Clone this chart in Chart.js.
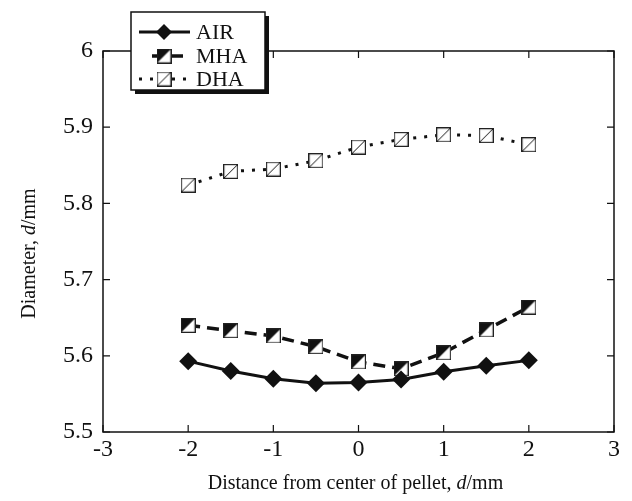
<!DOCTYPE html>
<html lang="en">
  <head>
    <meta charset="UTF-8" />
    <title>Diameter vs distance</title>
    <style type="text/css">
      body {
        margin: 0;
        background-color: #ffffff;
      }
      #wrap {
        width: 632px;
        height: 501px;
      }
    </style>
  </head>
  <body>
    <div id="wrap"><canvas id="chart"></canvas></div>

    <script src="https://cdn.jsdelivr.net/npm/chart.js@4.4.1/dist/chart.umd.min.js"></script>
    <script type="text/javascript">
      const xPos = [-2, -1.5, -1, -0.5, 0, 0.5, 1, 1.5, 2];
      const airVals = [5.593, 5.58, 5.57, 5.564, 5.565, 5.569, 5.579, 5.587, 5.594];
      const mhaVals = [5.64, 5.633, 5.626, 5.612, 5.592, 5.583, 5.604, 5.634, 5.664];
      const dhaVals = [5.824, 5.842, 5.845, 5.856, 5.874, 5.884, 5.89, 5.889, 5.877];
      const seriesNames = ["AIR", "MHA", "DHA"];
      const xTitle = ["Distance from center of pellet, ", "d", "/mm"];
      const yTitle = ["Diameter, ", "d", "/mm"];

      const serif = "'Liberation Serif', 'DejaVu Serif', serif";

      // little canvases used as point styles
      const makeMarker = (kind) => {
        const c = document.createElement("canvas");
        const s = 15;
        c.width = s;
        c.height = s;
        const g = c.getContext("2d");
        g.fillStyle = "#fff";
        g.fillRect(0.5, 0.5, s - 1, s - 1);
        if (kind === "half") {
          g.fillStyle = "#111";
          g.beginPath();
          g.moveTo(0.5, 0.5);
          g.lineTo(s - 0.5, 0.5);
          g.lineTo(0.5, s - 0.5);
          g.closePath();
          g.fill();
        } else {
          g.strokeStyle = "#111";
          g.lineWidth = 1;
          g.beginPath();
          g.moveTo(1, s - 1);
          g.lineTo(s - 1, 1);
          g.stroke();
        }
        g.strokeStyle = "#222";
        g.lineWidth = 1.2;
        g.strokeRect(0.6, 0.6, s - 1.2, s - 1.2);
        return c;
      };
      const mhaMarker = makeMarker("half");
      const dhaMarker = makeMarker("slash");

      const toPoints = (vals) => vals.map((v, i) => ({ x: xPos[i], y: v }));

      const frame = {
        id: "frame",
        afterDraw(chart) {
          const ctx = chart.ctx;
          const a = chart.chartArea;
          const xs = chart.scales.x;
          const ys = chart.scales.y;
          ctx.save();
          ctx.strokeStyle = "#111";
          ctx.lineWidth = 1.5;
          ctx.strokeRect(a.left, a.top, a.right - a.left, a.bottom - a.top);

          // inward ticks on all sides
          const tl = 7;
          ctx.beginPath();
          xs.ticks.forEach((t) => {
            const px = xs.getPixelForValue(t.value);
            ctx.moveTo(px, a.bottom);
            ctx.lineTo(px, a.bottom - tl);
            ctx.moveTo(px, a.top);
            ctx.lineTo(px, a.top + tl);
          });
          ys.ticks.forEach((t) => {
            const py = ys.getPixelForValue(t.value);
            ctx.moveTo(a.left, py);
            ctx.lineTo(a.left + tl, py);
            ctx.moveTo(a.right, py);
            ctx.lineTo(a.right - tl, py);
          });
          ctx.lineWidth = 1.2;
          ctx.stroke();

          // axis titles with italic d
          const drawMixed = (parts, cx, cy) => {
            const fonts = ["20px " + serif, "italic 20px " + serif, "20px " + serif];
            let w = 0;
            parts.forEach((p, i) => {
              ctx.font = fonts[i];
              w += ctx.measureText(p).width;
            });
            let x = cx - w / 2;
            ctx.fillStyle = "#111";
            ctx.textBaseline = "middle";
            ctx.textAlign = "left";
            parts.forEach((p, i) => {
              ctx.font = fonts[i];
              ctx.fillText(p, x, cy);
              x += ctx.measureText(p).width;
            });
          };
          drawMixed(xTitle, (a.left + a.right) / 2 - 3, 484);
          ctx.save();
          ctx.translate(30, (a.top + a.bottom) / 2 + 12);
          ctx.rotate(-Math.PI / 2);
          drawMixed(yTitle, 0, 0);
          ctx.restore();

          // legend box with shadow
          const bx = 131, by = 12, bw = 134, bh = 78;
          ctx.fillStyle = "#111";
          ctx.fillRect(bx + 4, by + 4, bw, bh);
          ctx.fillStyle = "#fff";
          ctx.fillRect(bx, by, bw, bh);
          ctx.strokeStyle = "#111";
          ctx.lineWidth = 1.5;
          ctx.strokeRect(bx, by, bw, bh);

          const rows = [32, 56, 79];
          const lineStart = [139, 152, 139];
          chart.data.datasets.forEach((ds, i) => {
            const y = rows[i];
            ctx.save();
            ctx.strokeStyle = "#111";
            ctx.lineWidth = ds.borderWidth;
            ctx.setLineDash(ds.borderDash || []);
            ctx.beginPath();
            ctx.moveTo(lineStart[i], y);
            ctx.lineTo(190, y);
            ctx.stroke();
            ctx.restore();
            const ps = ds.pointStyle;
            if (ps === "rectRot") {
              ctx.fillStyle = "#111";
              ctx.beginPath();
              ctx.moveTo(164, y - 8);
              ctx.lineTo(172, y);
              ctx.lineTo(164, y + 8);
              ctx.lineTo(156, y);
              ctx.closePath();
              ctx.fill();
            } else {
              ctx.drawImage(ps, 164 - ps.width / 2, y - ps.height / 2);
            }
            ctx.fillStyle = "#111";
            ctx.font = "22px " + serif;
            ctx.textBaseline = "middle";
            ctx.textAlign = "left";
            ctx.fillText(ds.label, 196, y + 1);
          });
          ctx.restore();
        },
      };

      new Chart("chart", {
        type: "scatter",
        data: {
          datasets: [
            {
              label: seriesNames[0],
              data: toPoints(airVals),
              showLine: true,
              borderColor: "#111",
              backgroundColor: "#111",
              borderWidth: 3,
              pointStyle: "rectRot",
              pointRadius: 9,
              pointBorderWidth: 0,
            },
            {
              label: seriesNames[1],
              data: toPoints(mhaVals),
              showLine: true,
              borderColor: "#111",
              borderWidth: 3.5,
              borderDash: [12, 7],
              pointStyle: mhaMarker,
            },
            {
              label: seriesNames[2],
              data: toPoints(dhaVals),
              showLine: true,
              borderColor: "#111",
              borderWidth: 3,
              borderDash: [3, 8],
              pointStyle: dhaMarker,
            },
          ],
        },
        options: {
          responsive: true,
          maintainAspectRatio: false,
          animation: false,
          layout: { padding: { top: 51, right: 18, left: 0, bottom: 0 } },
          plugins: {
            legend: { display: false },
            tooltip: { enabled: false },
          },
          scales: {
            x: {
              type: "linear",
              min: -3,
              max: 3,
              grid: { display: false, drawTicks: false },
              border: { display: false },
              ticks: {
                stepSize: 1,
                color: "#111",
                padding: 3,
                font: { family: serif, size: 24 },
              },
              afterFit: (scale) => {
                scale.height = 69;
              },
            },
            y: {
              min: 5.5,
              max: 6,
              grid: { display: false, drawTicks: false },
              border: { display: false },
              ticks: {
                stepSize: 0.1,
                color: "#111",
                padding: 10,
                font: { family: serif, size: 24 },
                callback: (v) => String(Number(v.toFixed(1))),
              },
              afterFit: (scale) => {
                scale.width = 103;
              },
            },
          },
        },
        plugins: [frame],
      });
    </script>
  </body>
</html>
